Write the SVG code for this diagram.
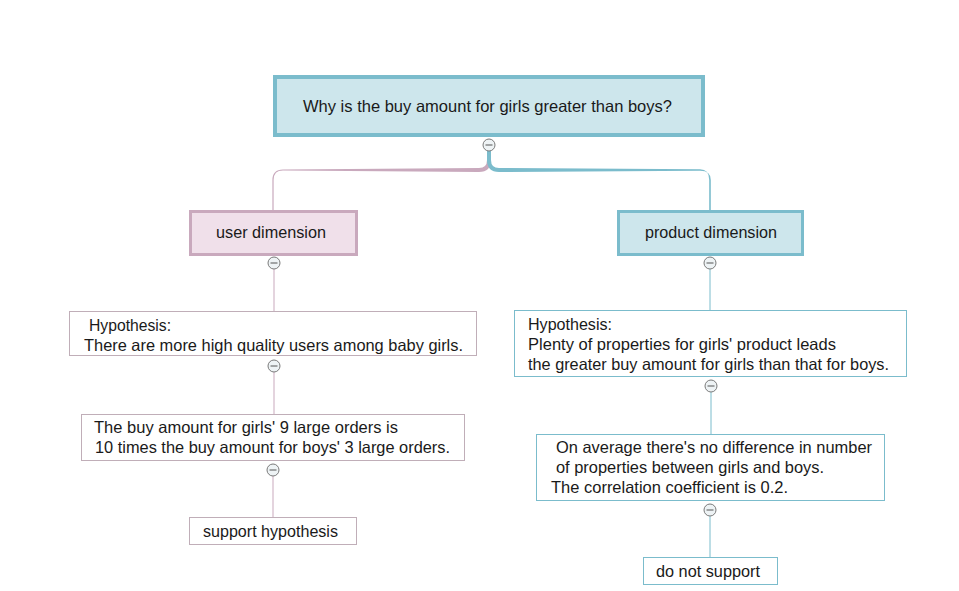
<svg xmlns="http://www.w3.org/2000/svg" width="959" height="591" viewBox="0 0 959 591">
<style>
text{font-family:"Liberation Sans",Arial,sans-serif;font-size:16.5px;fill:#1a1a1a}
.blue{fill:#cde6ec;stroke:#7bbccc}
.pink{fill:#f0e0ea;stroke:#c9a9bd}
.wb{fill:#fff;stroke:#7bbccc;stroke-width:1}
.wp{fill:#fff;stroke:#c0aeb8;stroke-width:1}
.lb{fill:none;stroke:#7bbccc}
.lp{fill:none;stroke:#c9a9bd}
</style>
<defs>
<g id="t"><circle cx="0" cy="0" r="6" fill="#eef3f5" stroke="#7a7a7a" stroke-width="1"/><line x1="-3.5" y1="0" x2="3.5" y2="0" stroke="#555" stroke-width="1"/></g>
</defs>
<rect width="959" height="591" fill="#fff"/>
<g id="connectors">
<path fill="#c9a9bd" d="M491,151 V160 Q491,172 479,172 L283,170.6 Q273.6,170.6 273.6,180 V210 H272.4 V180 Q272.4,169.4 283,169.4 L479,168 Q487,168 487,160 V151 Z"/>
<path fill="#7bbccc" d="M487,151 V160 Q487,172 499,172 L700,170.8 Q710.8,170.8 710.8,180 V210 H709.2 V180 Q709.2,169.2 700,169.2 L499,168 Q491,168 491,160 V151 Z"/>
<line class="lp" stroke-width="1" x1="274" y1="269" x2="274" y2="311"/>
<line class="lp" stroke-width="1" x1="274" y1="372" x2="274" y2="414"/>
<line class="lp" stroke-width="1" x1="273" y1="476" x2="273" y2="517"/>
<line class="lb" stroke-width="1" x1="710" y1="269" x2="710" y2="310"/>
<line class="lb" stroke-width="1" x1="711" y1="392" x2="711" y2="434"/>
<line class="lb" stroke-width="1" x1="710" y1="516" x2="710" y2="557"/>
</g>
<g id="root">
<rect class="blue" stroke-width="4" x="275" y="77" width="428" height="58"/>
<text x="303" y="112" textLength="369" lengthAdjust="spacingAndGlyphs">Why is the buy amount for girls greater than boys?</text>
<use href="#t" x="489" y="145"/>
</g>
<g id="user">
<rect class="pink" stroke-width="3" x="190.5" y="211.5" width="166" height="43"/>
<text x="216" y="238" textLength="110" lengthAdjust="spacingAndGlyphs">user dimension</text>
<use href="#t" x="274" y="263"/>
</g>
<g id="product">
<rect class="blue" stroke-width="3" x="618.5" y="211.5" width="184" height="43"/>
<text x="645" y="238" textLength="132" lengthAdjust="spacingAndGlyphs">product dimension</text>
<use href="#t" x="710" y="263"/>
</g>
<g id="hypL">
<rect class="wp" x="69.5" y="311.5" width="407" height="44"/>
<text x="89" y="331" textLength="82" lengthAdjust="spacingAndGlyphs">Hypothesis:</text>
<text x="84" y="351" textLength="379" lengthAdjust="spacingAndGlyphs">There are more high quality users among baby girls.</text>
<use href="#t" x="274" y="366"/>
</g>
<g id="evL">
<rect class="wp" x="81.5" y="414.5" width="383" height="46"/>
<text x="94" y="433" textLength="304" lengthAdjust="spacingAndGlyphs">The buy amount for girls' 9 large orders is</text>
<text x="95" y="453" textLength="355" lengthAdjust="spacingAndGlyphs">10 times the buy amount for boys' 3 large orders.</text>
<use href="#t" x="273" y="470"/>
</g>
<g id="supL">
<rect class="wp" x="189.5" y="517.5" width="167" height="27"/>
<text x="203" y="537" textLength="135" lengthAdjust="spacingAndGlyphs">support hypothesis</text>
</g>
<g id="hypR">
<rect class="wb" x="514.5" y="310.5" width="392" height="66"/>
<text x="528" y="330" textLength="84" lengthAdjust="spacingAndGlyphs">Hypothesis:</text>
<text x="528" y="350" textLength="308" lengthAdjust="spacingAndGlyphs">Plenty of properties for girls' product leads</text>
<text x="528" y="370" textLength="361" lengthAdjust="spacingAndGlyphs">the greater buy amount for girls than that for boys.</text>
<use href="#t" x="711" y="386"/>
</g>
<g id="evR">
<rect class="wb" x="536.5" y="434.5" width="348" height="66"/>
<text x="556" y="453" textLength="316" lengthAdjust="spacingAndGlyphs">On average there's no difference in number</text>
<text x="556" y="473" textLength="268" lengthAdjust="spacingAndGlyphs">of properties between girls and boys.</text>
<text x="551" y="493" textLength="237" lengthAdjust="spacingAndGlyphs">The correlation coefficient is 0.2.</text>
<use href="#t" x="710" y="510"/>
</g>
<g id="supR">
<rect class="wb" x="643.5" y="557.5" width="134" height="27"/>
<text x="656" y="577" textLength="104" lengthAdjust="spacingAndGlyphs">do not support</text>
</g>
</svg>
